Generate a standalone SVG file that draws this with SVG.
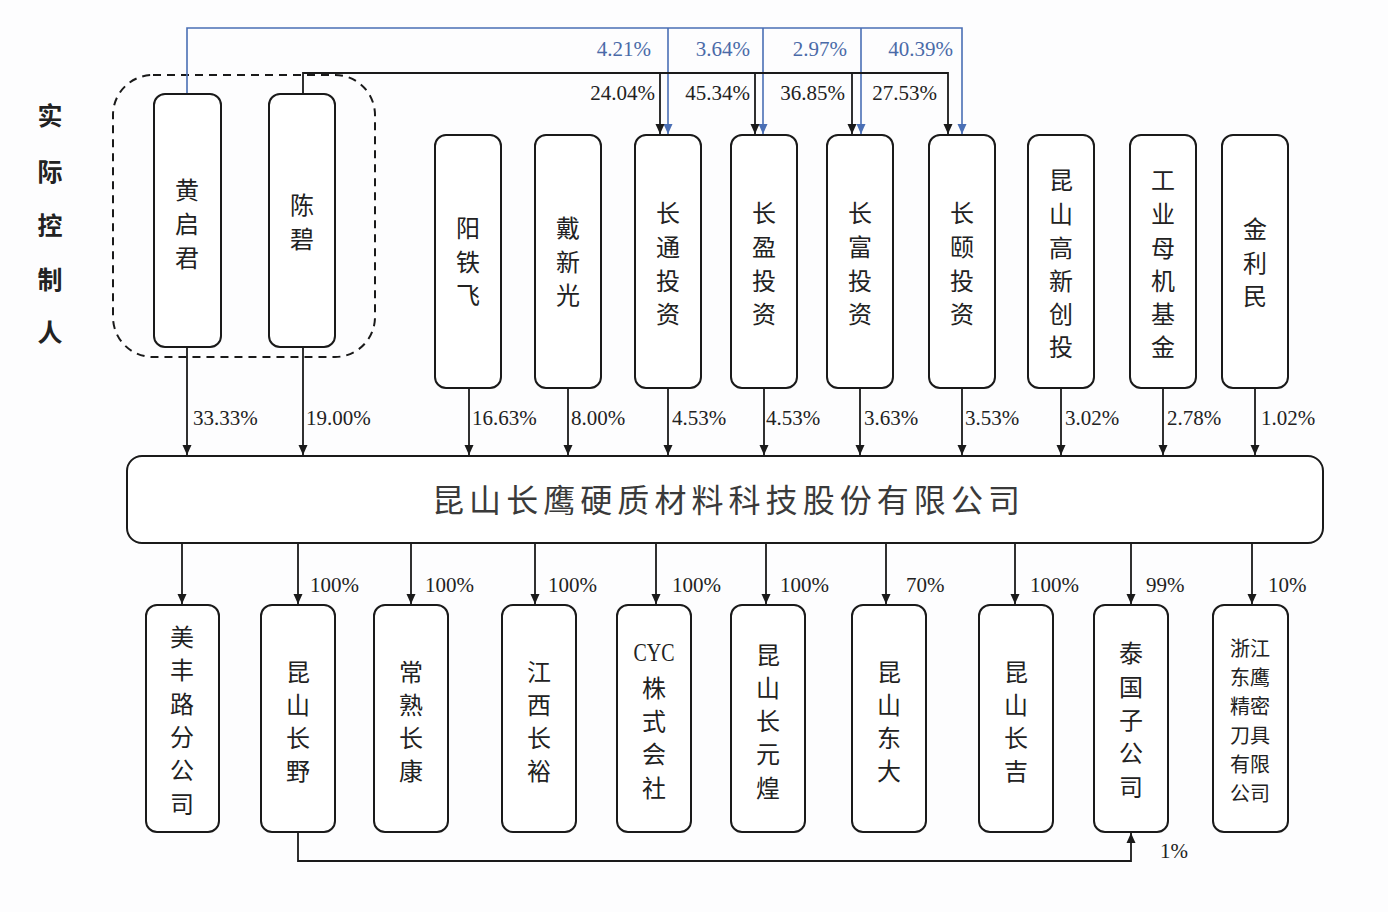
<svg xmlns="http://www.w3.org/2000/svg" width="1388" height="912" viewBox="0 0 1388 912">
<defs>
<marker id="ab" markerUnits="userSpaceOnUse" markerWidth="10" markerHeight="10" viewBox="0 0 10 10" refX="10" refY="5" orient="auto"><path d="M0,0.5 L10,5 L0,9.5 z" fill="#1a1a1a"/></marker>
<marker id="au" markerUnits="userSpaceOnUse" markerWidth="10" markerHeight="10" viewBox="0 0 10 10" refX="10" refY="5" orient="auto"><path d="M0,0.5 L10,5 L0,9.5 z" fill="#4a6fb5"/></marker>
<style>
.box{fill:#fff;stroke:#1a1a1a;stroke-width:2}
.ln{fill:none;stroke:#1a1a1a;stroke-width:1.8}
.bl{fill:none;stroke:#4a6fb5;stroke-width:1.6}
.cn{font-family:"Noto Sans CJK SC","Noto Sans",sans-serif;font-size:24px;fill:#222;text-anchor:middle;dominant-baseline:central}
.pc{font-family:"Liberation Serif","Times New Roman",serif;font-size:21px;fill:#222}
.pb{font-family:"Liberation Serif","Times New Roman",serif;font-size:21px;fill:#4a6aa8}
</style>
</defs>
<rect x="0" y="0" width="1388" height="912" fill="#fdfdfe"/>

<g id="title">
<text class="cn" style="font-weight:bold;font-size:25px"><tspan x="50" y="114">实</tspan><tspan x="50" y="170">际</tspan><tspan x="50" y="224">控</tspan><tspan x="50" y="278">制</tspan><tspan x="50" y="331">人</tspan></text>
</g>

<g id="controller-group">
<rect x="113" y="75" width="262" height="282" rx="40" fill="none" stroke="#1a1a1a" stroke-width="2" stroke-dasharray="8,6"/>
</g>

<g id="connectors">
<path class="bl" d="M187,94 V28 H962 V134" marker-end="url(#au)"/>
<path class="bl" d="M668,28 V134" marker-end="url(#au)"/>
<path class="bl" d="M763,28 V134" marker-end="url(#au)"/>
<path class="bl" d="M861,28 V134" marker-end="url(#au)"/>
<path class="ln" d="M303,94 V73 H948 V134" marker-end="url(#ab)"/>
<path class="ln" d="M660,73 V134" marker-end="url(#ab)"/>
<path class="ln" d="M755,73 V134" marker-end="url(#ab)"/>
<path class="ln" d="M852,73 V134" marker-end="url(#ab)"/>

<path class="ln" d="M187,347 V455" marker-end="url(#ab)"/>
<path class="ln" d="M303,347 V455" marker-end="url(#ab)"/>
<path class="ln" d="M469,388 V455" marker-end="url(#ab)"/>
<path class="ln" d="M568,388 V455" marker-end="url(#ab)"/>
<path class="ln" d="M668,388 V455" marker-end="url(#ab)"/>
<path class="ln" d="M764,388 V455" marker-end="url(#ab)"/>
<path class="ln" d="M860,388 V455" marker-end="url(#ab)"/>
<path class="ln" d="M962,388 V455" marker-end="url(#ab)"/>
<path class="ln" d="M1061,388 V455" marker-end="url(#ab)"/>
<path class="ln" d="M1163,388 V455" marker-end="url(#ab)"/>
<path class="ln" d="M1255,388 V455" marker-end="url(#ab)"/>

<path class="ln" d="M182,543 V604" marker-end="url(#ab)"/>
<path class="ln" d="M298,543 V604" marker-end="url(#ab)"/>
<path class="ln" d="M411,543 V604" marker-end="url(#ab)"/>
<path class="ln" d="M535,543 V604" marker-end="url(#ab)"/>
<path class="ln" d="M656,543 V604" marker-end="url(#ab)"/>
<path class="ln" d="M766,543 V604" marker-end="url(#ab)"/>
<path class="ln" d="M886,543 V604" marker-end="url(#ab)"/>
<path class="ln" d="M1015,543 V604" marker-end="url(#ab)"/>
<path class="ln" d="M1131,543 V604" marker-end="url(#ab)"/>
<path class="ln" d="M1252,543 V604" marker-end="url(#ab)"/>

<path class="ln" d="M298,832 V861 H1131 V833" marker-end="url(#ab)"/>

<text class="pb" text-anchor="end" x="651" y="56">4.21%</text>
<text class="pb" text-anchor="end" x="750" y="56">3.64%</text>
<text class="pb" text-anchor="end" x="847" y="56">2.97%</text>
<text class="pb" text-anchor="end" x="953" y="56">40.39%</text>
<text class="pc" text-anchor="end" x="655" y="100">24.04%</text>
<text class="pc" text-anchor="end" x="750" y="100">45.34%</text>
<text class="pc" text-anchor="end" x="845" y="100">36.85%</text>
<text class="pc" text-anchor="end" x="937" y="100">27.53%</text>

<text class="pc" x="193" y="425">33.33%</text>
<text class="pc" x="306" y="425">19.00%</text>
<text class="pc" x="472" y="425">16.63%</text>
<text class="pc" x="571" y="425">8.00%</text>
<text class="pc" x="672" y="425">4.53%</text>
<text class="pc" x="766" y="425">4.53%</text>
<text class="pc" x="864" y="425">3.63%</text>
<text class="pc" x="965" y="425">3.53%</text>
<text class="pc" x="1065" y="425">3.02%</text>
<text class="pc" x="1167" y="425">2.78%</text>
<text class="pc" x="1261" y="425">1.02%</text>

<text class="pc" x="310" y="592">100%</text>
<text class="pc" x="425" y="592">100%</text>
<text class="pc" x="548" y="592">100%</text>
<text class="pc" x="672" y="592">100%</text>
<text class="pc" x="780" y="592">100%</text>
<text class="pc" x="906" y="592">70%</text>
<text class="pc" x="1030" y="592">100%</text>
<text class="pc" x="1146" y="592">99%</text>
<text class="pc" x="1268" y="592">10%</text>
<text class="pc" x="1160" y="858">1%</text>
</g>

<g id="n-huangqijun"><rect class="box" x="154" y="94" width="67" height="253" rx="11"/>
<text class="cn"><tspan x="187" y="188">黄</tspan><tspan x="187" y="222">启</tspan><tspan x="187" y="256">君</tspan></text></g>
<g id="n-chenbi"><rect class="box" x="269" y="94" width="66" height="253" rx="11"/>
<text class="cn"><tspan x="302" y="203">陈</tspan><tspan x="302" y="237">碧</tspan></text></g>

<g id="n-yangtiefei"><rect class="box" x="435" y="135" width="66" height="253" rx="11"/>
<text class="cn"><tspan x="468" y="226">阳</tspan><tspan x="468" y="260">铁</tspan><tspan x="468" y="293">飞</tspan></text></g>
<g id="n-daixinguang"><rect class="box" x="535" y="135" width="66" height="253" rx="11"/>
<text class="cn"><tspan x="568" y="226">戴</tspan><tspan x="568" y="260">新</tspan><tspan x="568" y="293">光</tspan></text></g>
<g id="n-changtong"><rect class="box" x="635" y="135" width="66" height="253" rx="11"/>
<text class="cn"><tspan x="668" y="211">长</tspan><tspan x="668" y="245">通</tspan><tspan x="668" y="279">投</tspan><tspan x="668" y="312">资</tspan></text></g>
<g id="n-changying"><rect class="box" x="731" y="135" width="66" height="253" rx="11"/>
<text class="cn"><tspan x="764" y="211">长</tspan><tspan x="764" y="245">盈</tspan><tspan x="764" y="279">投</tspan><tspan x="764" y="312">资</tspan></text></g>
<g id="n-changfu"><rect class="box" x="827" y="135" width="66" height="253" rx="11"/>
<text class="cn"><tspan x="860" y="211">长</tspan><tspan x="860" y="245">富</tspan><tspan x="860" y="279">投</tspan><tspan x="860" y="312">资</tspan></text></g>
<g id="n-changyi"><rect class="box" x="929" y="135" width="66" height="253" rx="11"/>
<text class="cn"><tspan x="962" y="211">长</tspan><tspan x="962" y="245">颐</tspan><tspan x="962" y="279">投</tspan><tspan x="962" y="312">资</tspan></text></g>
<g id="n-kunshangaoxin"><rect class="box" x="1028" y="135" width="66" height="253" rx="11"/>
<text class="cn"><tspan x="1061" y="178">昆</tspan><tspan x="1061" y="212">山</tspan><tspan x="1061" y="246">高</tspan><tspan x="1061" y="279">新</tspan><tspan x="1061" y="312">创</tspan><tspan x="1061" y="345">投</tspan></text></g>
<g id="n-gongyemuji"><rect class="box" x="1130" y="135" width="66" height="253" rx="11"/>
<text class="cn"><tspan x="1163" y="178">工</tspan><tspan x="1163" y="212">业</tspan><tspan x="1163" y="246">母</tspan><tspan x="1163" y="279">机</tspan><tspan x="1163" y="312">基</tspan><tspan x="1163" y="345">金</tspan></text></g>
<g id="n-jinlimin"><rect class="box" x="1222" y="135" width="66" height="253" rx="11"/>
<text class="cn"><tspan x="1255" y="227">金</tspan><tspan x="1255" y="261">利</tspan><tspan x="1255" y="294">民</tspan></text></g>

<g id="n-main"><rect class="box" x="127" y="456" width="1196" height="87" rx="15"/>
<text x="726" y="498" textLength="588" lengthAdjust="spacing" style="font-family:'Noto Sans CJK SC','Noto Sans',sans-serif;font-size:32px;fill:#3a3a3a;text-anchor:middle;dominant-baseline:central">昆山长鹰硬质材料科技股份有限公司</text></g>

<g id="n-meifeng"><rect class="box" x="146" y="605" width="73" height="227" rx="11"/>
<text class="cn"><tspan x="182" y="635">美</tspan><tspan x="182" y="668">丰</tspan><tspan x="182" y="702">路</tspan><tspan x="182" y="735">分</tspan><tspan x="182" y="768">公</tspan><tspan x="182" y="802">司</tspan></text></g>
<g id="n-changye"><rect class="box" x="261" y="605" width="74" height="227" rx="11"/>
<text class="cn"><tspan x="298" y="670">昆</tspan><tspan x="298" y="703">山</tspan><tspan x="298" y="736">长</tspan><tspan x="298" y="769">野</tspan></text></g>
<g id="n-changkang"><rect class="box" x="374" y="605" width="74" height="227" rx="11"/>
<text class="cn"><tspan x="411" y="670">常</tspan><tspan x="411" y="703">熟</tspan><tspan x="411" y="736">长</tspan><tspan x="411" y="769">康</tspan></text></g>
<g id="n-changyu"><rect class="box" x="502" y="605" width="74" height="227" rx="11"/>
<text class="cn"><tspan x="539" y="670">江</tspan><tspan x="539" y="703">西</tspan><tspan x="539" y="736">长</tspan><tspan x="539" y="769">裕</tspan></text></g>
<g id="n-cyc"><rect class="box" x="617" y="605" width="74" height="227" rx="11"/>
<text x="654" y="661" textLength="41" lengthAdjust="spacingAndGlyphs" style="font-family:'Liberation Serif',serif;font-size:25px;fill:#222;text-anchor:middle">CYC</text>
<text class="cn"><tspan x="654" y="686">株</tspan><tspan x="654" y="719">式</tspan><tspan x="654" y="752">会</tspan><tspan x="654" y="786">社</tspan></text></g>
<g id="n-changyuanhuang"><rect class="box" x="731" y="605" width="74" height="227" rx="11"/>
<text class="cn"><tspan x="768" y="653">昆</tspan><tspan x="768" y="686">山</tspan><tspan x="768" y="719">长</tspan><tspan x="768" y="752">元</tspan><tspan x="768" y="786">煌</tspan></text></g>
<g id="n-dongda"><rect class="box" x="852" y="605" width="74" height="227" rx="11"/>
<text class="cn"><tspan x="889" y="670">昆</tspan><tspan x="889" y="703">山</tspan><tspan x="889" y="736">东</tspan><tspan x="889" y="769">大</tspan></text></g>
<g id="n-changji"><rect class="box" x="979" y="605" width="74" height="227" rx="11"/>
<text class="cn"><tspan x="1016" y="670">昆</tspan><tspan x="1016" y="703">山</tspan><tspan x="1016" y="736">长</tspan><tspan x="1016" y="769">吉</tspan></text></g>
<g id="n-thailand"><rect class="box" x="1094" y="605" width="74" height="227" rx="11"/>
<text class="cn"><tspan x="1131" y="651">泰</tspan><tspan x="1131" y="685">国</tspan><tspan x="1131" y="718">子</tspan><tspan x="1131" y="751">公</tspan><tspan x="1131" y="785">司</tspan></text></g>
<g id="n-dongying"><rect class="box" x="1213" y="605" width="75" height="227" rx="11"/>
<text class="cn" style="font-size:20px"><tspan x="1250" y="647">浙江</tspan><tspan x="1250" y="676">东鹰</tspan><tspan x="1250" y="705">精密</tspan><tspan x="1250" y="734">刀具</tspan><tspan x="1250" y="763">有限</tspan><tspan x="1250" y="792">公司</tspan></text></g>
</svg>
